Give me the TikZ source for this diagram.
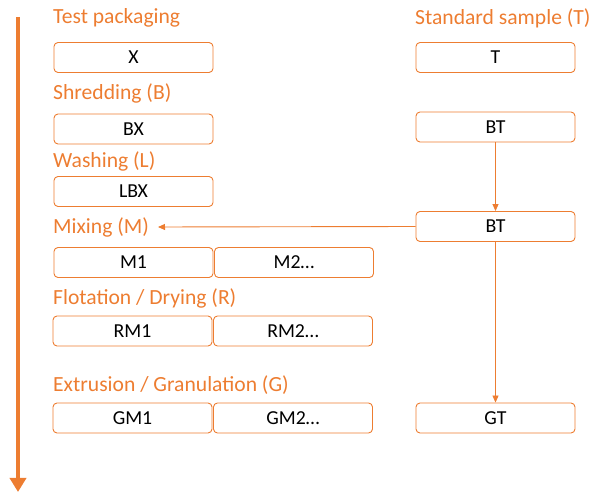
\documentclass[tikz,border=0pt]{standalone}
\usepackage{fontspec}
\setmainfont{Carlito}
\usetikzlibrary{arrows.meta}
\definecolor{org}{HTML}{ED7D31}
\begin{document}
\begin{tikzpicture}[x=1pt,y=-1pt,
  box/.style={draw=org,line width=0.9pt,rounded corners=4pt,minimum width=159pt,minimum height=30pt,inner sep=0pt,font=\fontsize{19.8}{22}\selectfont,text=black},
  lbl/.style={anchor=west,text=org,inner sep=0pt,font=\fontsize{21.6}{24}\selectfont},
  conn/.style={draw=org,line width=0.9pt,-{Triangle[length=7pt,width=6pt]}}]
\useasboundingbox (0,0) rectangle (590,494);
% left timeline arrow
\coordinate (ts) at (18,17);
\coordinate (te) at (18,492);
\draw[org,line width=4pt,-{Triangle[length=14pt,width=16pt]}] (ts) -- (te);
% labels
\node[lbl] (l1) at (53,18) {Test packaging};
\node[lbl] (l2) at (53,93) {Shredding (B)};
\node[lbl] (l3) at (53,161) {Washing (L)};
\node[lbl] (l4) at (53,227) {Mixing (M)};
\node[lbl] (l5) at (53,298) {Flotation / Drying (R)};
\node[lbl] (l6) at (53,385) {Extrusion / Granulation (G)};
\node[lbl] (l7) at (415,18) {Standard sample (T)};
% left boxes
\node[box] (x) at (133.5,57.5) {X};
\node[box] (bx) at (133.5,129) {BX};
\node[box] (lbx) at (133.5,191.5) {LBX};
\node[box] (m1) at (133.5,262.5) {M1};
\node[box] (m2) at (294,262.5) {M2\dots};
\node[box] (rm1) at (132.5,331) {RM1};
\node[box] (rm2) at (293,331) {RM2\dots};
\node[box] (gm1) at (132.5,418) {GM1};
\node[box] (gm2) at (293,418) {GM2\dots};
% right boxes
\node[box] (t) at (495.5,57.5) {T};
\node[box] (bt1) at (495.5,127) {BT};
\node[box] (bt2) at (495.5,226.5) {BT};
\node[box] (gt) at (495.5,418) {GT};
% connectors
\draw[conn] (bt1) -- (bt2);
\draw[conn] (bt2) -- (gt);
\draw[conn] (bt2.west) -- (l4.east -| 158,0) ;
\end{tikzpicture}
\end{document}
